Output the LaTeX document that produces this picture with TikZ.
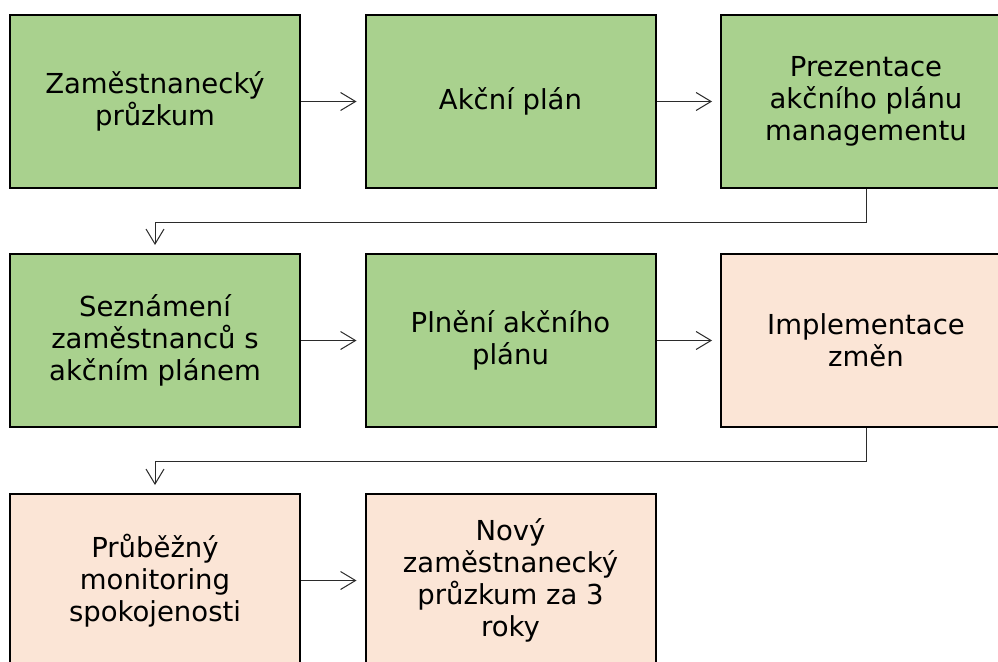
\documentclass[tikz,border=0pt]{standalone}
\usepackage{fontspec}
\setmainfont{DejaVu Sans}
\usetikzlibrary{arrows.meta}
\definecolor{boxgreen}{HTML}{A9D18E}
\definecolor{boxpink}{HTML}{FBE5D6}
\definecolor{linegray}{HTML}{2B2B2B}
\tikzset{
  stepbox/.style={draw=black, line width=2pt, rectangle, minimum width=290pt, minimum height=173pt, align=center, inner sep=0pt, font=\fontsize{27.5pt}{32pt}\selectfont, text=black},
  greenbox/.style={stepbox, fill=boxgreen},
  pinkbox/.style={stepbox, fill=boxpink},
  conn/.style={draw=linegray, line width=1pt, -{Straight Barb[length=15pt, width=18pt, line width=1pt]}, shorten >=8pt}
}
\begin{document}
\begin{tikzpicture}[x=1pt,y=1pt]
\useasboundingbox (0,0) rectangle (998,-661);
\clip (0,0) rectangle (998,-661);
\node[greenbox] (a) at (155,-101.5) {Zaměstnanecký\\průzkum};
\node[greenbox] (b) at (510.5,-101.5) {Akční plán};
\node[greenbox] (c) at (866,-101.5) {Prezentace\\akčního plánu\\managementu};
\node[greenbox] (d) at (155,-340.5) {Seznámení\\zaměstnanců s\\akčním plánem};
\node[greenbox] (e) at (510.5,-340.5) {Plnění akčního\\plánu};
\node[pinkbox] (f) at (866,-340.5) {Implementace\\změn};
\node[pinkbox] (g) at (155,-580.5) {Průběžný\\monitoring\\spokojenosti};
\node[pinkbox] (h) at (510.5,-580.5) {Nový\\zaměstnanecký\\průzkum za 3\\roky};
\draw[conn] (a.east) -- (b.west);
\draw[conn] (b.east) -- (c.west);
\draw[conn] (c.south) -- ++(0,-33) -| (d.north);
\draw[conn] (d.east) -- (e.west);
\draw[conn] (e.east) -- (f.west);
\draw[conn] (f.south) -- ++(0,-33) -| (g.north);
\draw[conn] (g.east) -- (h.west);
\end{tikzpicture}
\end{document}
